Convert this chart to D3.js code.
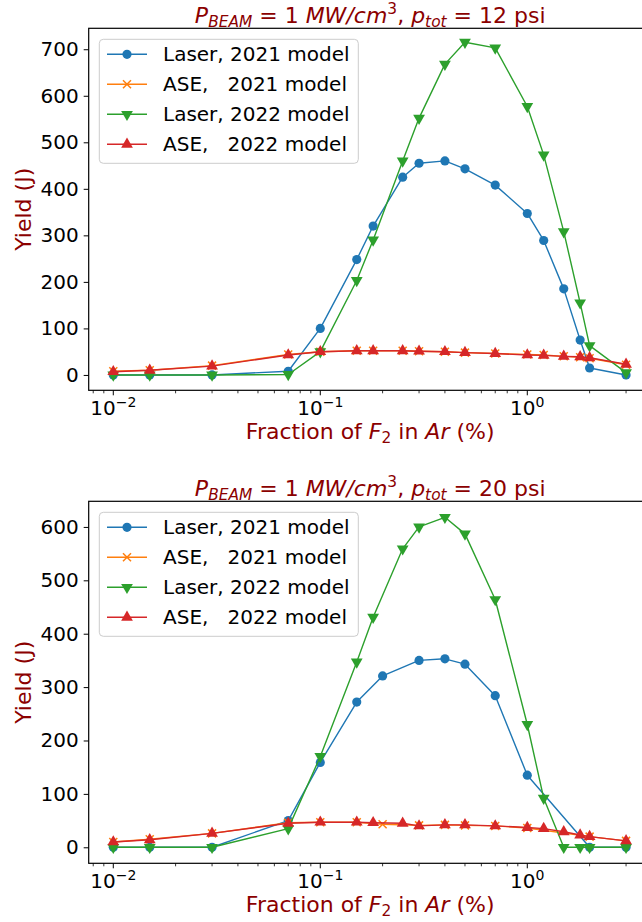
<!DOCTYPE html>
<html>
<head>
<meta charset="utf-8">
<script src="https://cdn.jsdelivr.net/npm/d3@7"></script>
<style>
  html, body { margin: 0; padding: 0; background: #fff; }
  svg { display: block; font-family: "DejaVu Sans", sans-serif; }
  text { white-space: pre; }
</style>
</head>
<body>
<svg id="chart" width="642" height="922"></svg>
<script>
// F2 fraction (%) sampled by each model run
const xTop2021 = [0.01, 0.015, 0.03, 0.07, 0.1, 0.15, 0.18, 0.25, 0.3, 0.4, 0.5, 0.7, 1.0, 1.2, 1.5, 1.8, 2.0, 3.0];
const xTop2022 = [0.01, 0.015, 0.03, 0.07, 0.1, 0.15, 0.18, 0.25, 0.3, 0.4, 0.5, 0.7, 1.0, 1.2, 1.5, 1.8, 2.0, 3.0];
const xBot2021 = [0.01, 0.015, 0.03, 0.07, 0.1, 0.15, 0.2, 0.3, 0.4, 0.5, 0.7, 1.0, 2.0, 3.0];
const xBot2022 = [0.01, 0.015, 0.03, 0.07, 0.1, 0.15, 0.18, 0.25, 0.3, 0.4, 0.5, 0.7, 1.0, 1.2, 1.5, 1.8, 2.0, 3.0];

// Yield (J), p_tot = 12 psi
const laserTop2021 = [0, 0, 0, 8, 100, 248, 320, 425, 455, 460, 443, 408, 347, 289, 185, 75, 15, 0];
const aseTop2021   = [8, 10, 20, 44, 50, 52, 52, 52, 51, 50, 48, 46, 44, 43, 40, 38, 36, 22];
const laserTop2022 = [0, 0, 0, 1, 50, 203, 290, 460, 552, 668, 715, 703, 577, 473, 308, 155, 63, 5];
const aseTop2022   = [7, 10, 19, 43, 50, 52, 52, 52, 51, 50, 48, 46, 43, 42, 40, 39, 37, 23];

// Yield (J), p_tot = 20 psi
const laserBot2021 = [0, 0, 0, 50, 159, 272, 321, 350, 353, 343, 284, 135, 0, 0];
const aseBot2021   = [10, 15, 26, 46, 47, 47, 43, 41, 42, 41, 40, 36, 20, 12];
const laserBot2022 = [0, 0, 0, 35, 170, 347, 431, 559, 600, 618, 587, 464, 230, 92, 0, 0, 0, 0];
const aseBot2022   = [10, 14, 26, 45, 47, 47, 46, 45, 40, 42, 42, 40, 37, 35, 29, 23, 20, 12];

const seriesNames = ["Laser, 2021 model", "ASE,   2021 model", "Laser, 2022 model", "ASE,   2022 model"];
const seriesColors = ["#1f77b4", "#ff7f0e", "#2ca02c", "#d62728"];
const seriesMarkers = ["circle", "x", "tridown", "triup"];

const yTicksTop = [0, 100, 200, 300, 400, 500, 600, 700];
const yTicksBot = [0, 100, 200, 300, 400, 500, 600];
const xMajorTicks = [0.01, 0.1, 1];
const xTickExp = ["\u22122", "\u22121", "0"];
const pressures = ["12", "20"];

const LABEL_RED = "#8b0000";
const FS = 20;      // tick labels and legend
const FS_LAB = 22;  // titles and axis labels

const svg = d3.select("#chart");

function markerPath(kind) {
  if (kind === "circle") return d3.symbol(d3.symbolCircle, 66)();
  return d3.symbol(d3.symbolTriangle, 60)();
}

function drawMarker(g, kind, color, x, y) {
  if (kind === "x") {
    const s = 4;
    g.append("path")
      .attr("d", `M${x - s},${y - s}L${x + s},${y + s}M${x - s},${y + s}L${x + s},${y - s}`)
      .attr("stroke", color).attr("stroke-width", 1.5).attr("fill", "none");
  } else {
    const rot = kind === "tridown" ? 180 : 0;
    g.append("path")
      .attr("d", markerPath(kind))
      .attr("transform", `translate(${x},${y}) rotate(${rot})`)
      .attr("fill", color);
  }
}

function drawPanel(cfg) {
  const left = 88.7, right = 651.7;
  const x = d3.scaleLog().domain([Math.pow(10, -2.1188), Math.pow(10, 0.601)]).range([left, right]);
  const y = d3.scaleLinear().domain(cfg.yDomain).range([cfg.bottom, cfg.top]);
  const g = svg.append("g");

  // series lines and markers (drawn in plotting order)
  cfg.series.forEach((s, i) => {
    const pts = s.xs.map((xv, k) => [x(xv), y(s.ys[k])]);
    g.append("path")
      .attr("d", d3.line()(pts))
      .attr("fill", "none")
      .attr("stroke", seriesColors[i])
      .attr("stroke-width", 1.4)
      .attr("stroke-linejoin", "round");
    const mg = g.append("g");
    pts.forEach(p => drawMarker(mg, seriesMarkers[i], seriesColors[i], p[0], p[1]));
  });

  // y axis
  const yAxis = d3.axisLeft(y).tickValues(cfg.yTicks).tickSize(5).tickPadding(5).tickFormat(d3.format("d"));
  const ya = g.append("g").attr("transform", `translate(${left},0)`).call(yAxis);
  ya.select(".domain").remove();
  ya.selectAll(".tick line").attr("stroke", "#000").attr("stroke-width", 1);
  ya.selectAll(".tick text").attr("font-size", FS).attr("fill", "#000")
    .attr("font-family", "DejaVu Sans");

  // x axis: major ticks with exponent labels, minor ticks between
  const minor = [];
  for (let e = -3; e <= 0; e++) for (let m = 2; m <= 9; m++) {
    const v = m * Math.pow(10, e);
    if (x(v) >= left && x(v) <= right) minor.push(v);
  }
  const xa = g.append("g").attr("transform", `translate(0,${cfg.bottom})`);
  xa.selectAll("line.minor").data(minor).join("line")
    .attr("x1", d => x(d)).attr("x2", d => x(d)).attr("y1", 0).attr("y2", 3)
    .attr("stroke", "#000").attr("stroke-width", 0.8);
  xa.selectAll("line.major").data(xMajorTicks).join("line")
    .attr("x1", d => x(d)).attr("x2", d => x(d)).attr("y1", 0).attr("y2", 5)
    .attr("stroke", "#000").attr("stroke-width", 1);
  xMajorTicks.forEach((v, i) => {
    const t = xa.append("text").attr("x", x(v)).attr("y", 25)
      .attr("text-anchor", "middle").attr("font-size", FS).attr("fill", "#000");
    t.append("tspan").text("10");
    t.append("tspan").attr("dy", -8).attr("font-size", FS * 0.7).text(xTickExp[i]);
  });

  // frame
  g.append("rect").attr("x", left).attr("y", cfg.top)
    .attr("width", right - left).attr("height", cfg.bottom - cfg.top)
    .attr("fill", "none").attr("stroke", "#000").attr("stroke-width", 1.2);

  // title
  const cx = (left + right) / 2;
  const tt = g.append("text").attr("x", cx).attr("y", cfg.top - 5)
    .attr("text-anchor", "middle").attr("font-size", FS_LAB).attr("fill", LABEL_RED);
  tt.append("tspan").attr("font-style", "italic").text("P");
  tt.append("tspan").attr("font-style", "italic").attr("font-size", FS_LAB * 0.7).attr("dy", 4).text("BEAM");
  tt.append("tspan").attr("dy", -4).text(" = 1 ");
  tt.append("tspan").attr("font-style", "italic").text("MW/cm");
  tt.append("tspan").attr("font-size", FS_LAB * 0.7).attr("dy", -9).text("3");
  tt.append("tspan").attr("dy", 9).text(", ");
  tt.append("tspan").attr("font-style", "italic").text("p");
  tt.append("tspan").attr("font-style", "italic").attr("font-size", FS_LAB * 0.7).attr("dy", 4).text("tot");
  tt.append("tspan").attr("dy", -4).text(" = " + cfg.pressure + " psi");

  // x label
  const xl = g.append("text").attr("x", cx).attr("y", cfg.bottom + 49)
    .attr("text-anchor", "middle").attr("font-size", FS_LAB).attr("fill", LABEL_RED);
  xl.append("tspan").text("Fraction of ");
  xl.append("tspan").attr("font-style", "italic").text("F");
  xl.append("tspan").attr("font-size", FS_LAB * 0.7).attr("dy", 4).text("2");
  xl.append("tspan").attr("dy", -4).text(" in ");
  xl.append("tspan").attr("font-style", "italic").text("Ar");
  xl.append("tspan").text(" (%)");

  // y label
  const cy = (cfg.top + cfg.bottom) / 2;
  g.append("text").attr("transform", `translate(31,${cy}) rotate(-90)`)
    .attr("text-anchor", "middle").attr("font-size", FS_LAB).attr("fill", LABEL_RED)
    .text("Yield (J)");

  // legend
  const lx = 99.3, ly = cfg.top + 11, lw = 259, lh = 124;
  const lg = g.append("g");
  lg.append("rect").attr("x", lx).attr("y", ly).attr("width", lw).attr("height", lh)
    .attr("rx", 4).attr("fill", "#fff").attr("fill-opacity", 0.8)
    .attr("stroke", "#cccccc").attr("stroke-width", 1);
  seriesNames.forEach((name, i) => {
    const yy = ly + 15 + i * 30;
    lg.append("line").attr("x1", 107).attr("x2", 147).attr("y1", yy).attr("y2", yy)
      .attr("stroke", seriesColors[i]).attr("stroke-width", 1.4);
    drawMarker(lg, seriesMarkers[i], seriesColors[i], 127, yy);
    lg.append("text").attr("x", 163).attr("y", yy + 7).attr("font-size", FS)
      .attr("fill", "#000").text(name);
  });
}

drawPanel({
  top: 28.3, bottom: 390.3, yDomain: [-33, 745], yTicks: yTicksTop, pressure: pressures[0],
  series: [
    { xs: xTop2021, ys: laserTop2021 },
    { xs: xTop2021, ys: aseTop2021 },
    { xs: xTop2022, ys: laserTop2022 },
    { xs: xTop2022, ys: aseTop2022 }
  ]
});

drawPanel({
  top: 501.3, bottom: 863.3, yDomain: [-30, 648], yTicks: yTicksBot, pressure: pressures[1],
  series: [
    { xs: xBot2021, ys: laserBot2021 },
    { xs: xBot2021, ys: aseBot2021 },
    { xs: xBot2022, ys: laserBot2022 },
    { xs: xBot2022, ys: aseBot2022 }
  ]
});
</script>
</body>
</html>
